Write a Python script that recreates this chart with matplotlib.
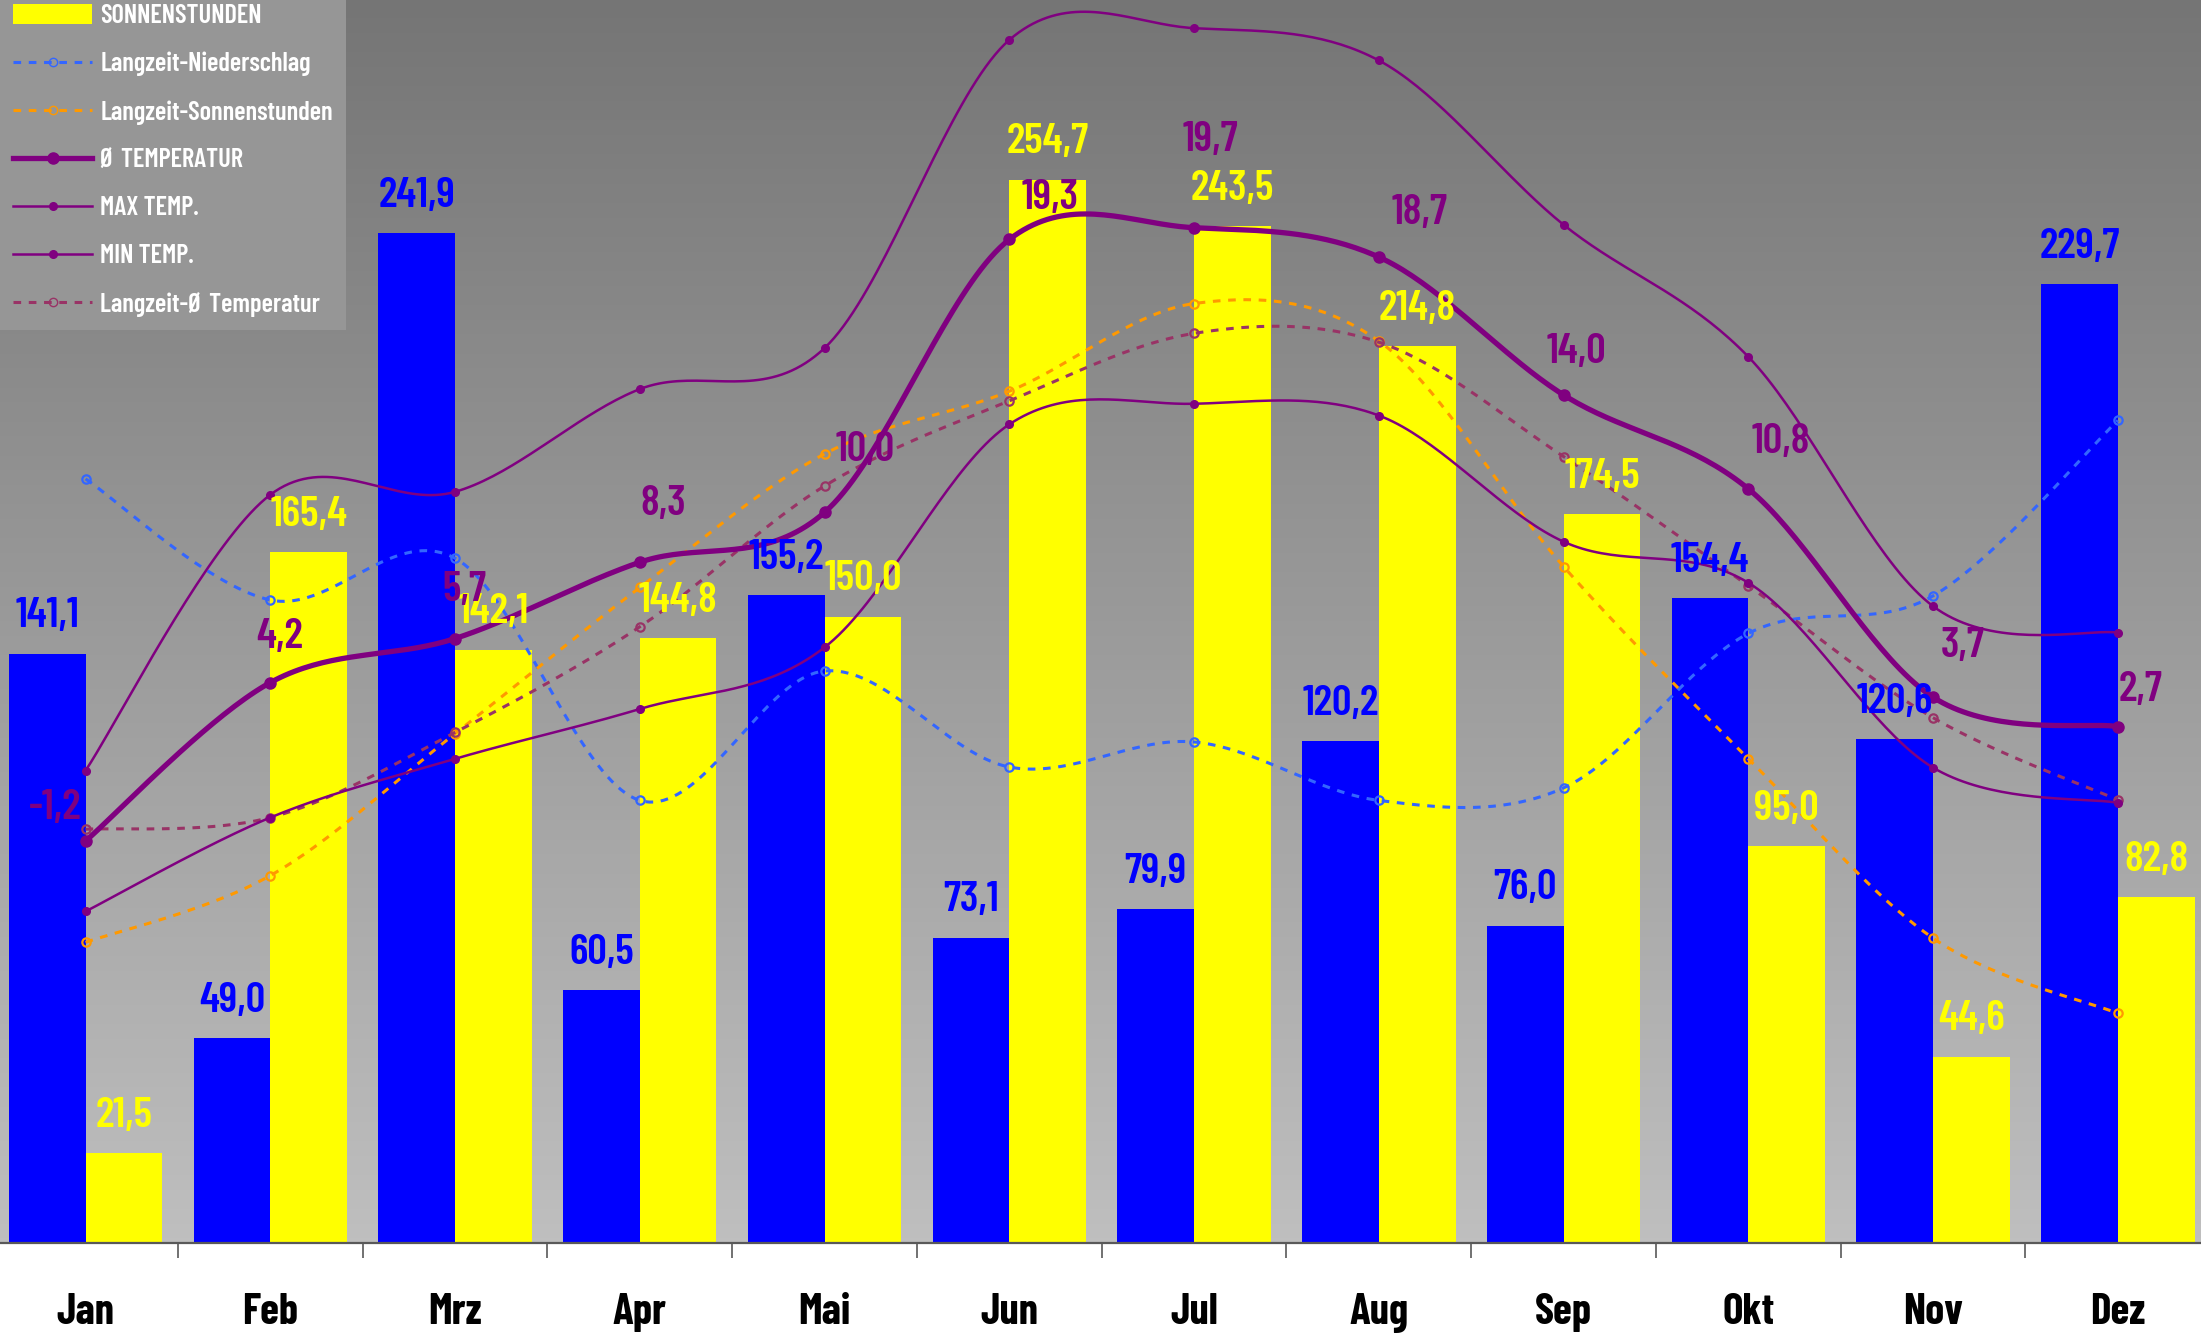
import numpy as np
import matplotlib
matplotlib.use("Agg")
import matplotlib.pyplot as plt
from matplotlib.patches import Patch
from matplotlib.lines import Line2D

plt.rcParams['font.family'] = ['Barlow Condensed', 'DejaVu Sans']

# data
months = ['Jan', 'Feb', 'Mrz', 'Apr', 'Mai', 'Jun', 'Jul', 'Aug', 'Sep', 'Okt', 'Nov', 'Dez']
niederschlag = [141.1, 49.0, 241.9, 60.5, 155.2, 73.1, 79.9, 120.2, 76.0, 154.4, 120.6, 229.7]
sonnenstunden = [21.5, 165.4, 142.1, 144.8, 150.0, 254.7, 243.5, 214.8, 174.5, 95.0, 44.6, 82.8]
lz_niederschlag = [183, 154, 164, 106, 137, 114, 120, 106, 109, 146, 155, 197]
lz_sonne = [72, 88, 122, 157, 189, 204, 225, 216, 162, 116, 73, 55]
temp_avg = [-1.2, 4.2, 5.7, 8.3, 10.0, 19.3, 19.7, 18.7, 14.0, 10.8, 3.7, 2.7]
temp_max = [1.2, 10.6, 10.7, 14.2, 15.6, 26.1, 26.5, 25.4, 19.8, 15.3, 6.8, 5.9]
temp_min = [-3.6, -0.4, 1.6, 3.3, 5.4, 13.0, 13.7, 13.3, 9.0, 7.6, 1.3, 0.1]
lz_temp = [-0.8, -0.4, 2.5, 6.1, 10.9, 13.8, 16.1, 15.8, 11.9, 7.5, 3.0, 0.2]

# label offsets (points) for the temperature labels
temp_label_off = [(-22, 24), (7, 33), (7, 35), (17, 42), (29, 45), (29, 30),
                  (12, 63), (29, 32), (9, 31), (23, 34), (21, 37), (16, 26)]


def fmt(v):
    return f"{v:.1f}".replace('.', ',')


# smooth line like the spreadsheet "smoothed line" (catmull-rom / bezier)
def smooth(xs, ys, n=40):
    P = np.column_stack([np.asarray(xs, float), np.asarray(ys, float)])
    out = []
    for i in range(len(P) - 1):
        p0 = P[i - 1] if i > 0 else P[i]
        p1 = P[i]
        p2 = P[i + 1]
        p3 = P[i + 2] if i + 2 < len(P) else P[i + 1]
        c1 = p1 + (p2 - p0) / 6
        c2 = p2 - (p3 - p1) / 6
        t = np.linspace(0, 1, n)[:, None]
        seg = ((1 - t) ** 3) * p1 + 3 * ((1 - t) ** 2) * t * c1 + 3 * (1 - t) * t ** 2 * c2 + t ** 3 * p2
        out.append(seg if i == 0 else seg[1:])
    seg = np.vstack(out)
    return seg[:, 0], seg[:, 1]


x = np.arange(len(months))
w = 0.415
lab_fs = 31
dash = (0, (2.5, 2.5))

fig = plt.figure(figsize=(22.01, 13.35), dpi=100)
ax = fig.add_axes([-0.0031, 0.0689, 1.0073, 0.9311])
ax.set_xlim(-0.5, 11.5)
ax.set_ylim(0, 297.7)

# gray gradient background
grad = np.linspace(0, 1, 256)[:, None]
top = np.array([117, 117, 117]) / 255
bot = np.array([191, 191, 191]) / 255
img = top + (bot - top) * grad[:, :, None]
img = np.repeat(img, 2, axis=1)
ax.imshow(img, extent=[0, 1, 0, 1], transform=ax.transAxes, aspect='auto', zorder=0)
ax.patch.set_visible(False)

ax.bar(x - w / 2, niederschlag, w, color='#0000FF', zorder=2)
ax.bar(x + w / 2, sonnenstunden, w, color='#FFFF00', zorder=2)

# long-term lines on the bar scale
sx, sy = smooth(x, lz_niederschlag)
ax.plot(sx, sy, color='#3366FF', lw=2.2, ls=dash, zorder=3)
ax.plot(x, lz_niederschlag, 'o', mfc='none', mec='#3366FF', ms=6, mew=1.6, zorder=3)
sx, sy = smooth(x, lz_sonne)
ax.plot(sx, sy, color='#FF9900', lw=2.2, ls=dash, zorder=3)
ax.plot(x, lz_sonne, 'o', mfc='none', mec='#FF9900', ms=6, mew=1.6, zorder=3)

# x axis
for s in ['top', 'left', 'right']:
    ax.spines[s].set_visible(False)
ax.spines['bottom'].set_color('#595959')
ax.spines['bottom'].set_linewidth(1.6)
ax.set_yticks([])
ax.set_xticks(x)
ax.set_xticklabels(months, fontsize=31, fontweight='bold', color='black')
ax.tick_params(axis='x', which='major', length=0, pad=36)
ax.set_xticks(np.arange(0.5, 11.5, 1), minor=True)
ax.tick_params(axis='x', which='minor', length=11, width=1.2, color='#595959')

# temperature axis
ax2 = ax.twinx()
ax2.set_ylim(-14.9, 27.46)
ax2.set_yticks([])
ax2.patch.set_visible(False)
for s in ax2.spines.values():
    s.set_visible(False)

sx, sy = smooth(x, lz_temp)
ax2.plot(sx, sy, color='#993366', lw=2.2, ls=dash, zorder=3)
ax2.plot(x, lz_temp, 'o', mfc='none', mec='#993366', ms=6, mew=1.6, zorder=3)

for vals in (temp_max, temp_min):
    sx, sy = smooth(x, vals)
    ax2.plot(sx, sy, color='#800080', lw=1.8, zorder=4)
    ax2.plot(x, vals, 'o', color='#800080', ms=5.5, zorder=4)

sx, sy = smooth(x, temp_avg)
ax2.plot(sx, sy, color='#800080', lw=3.8, zorder=4)
ax2.plot(x, temp_avg, 'o', color='#800080', ms=8, zorder=4)

# value labels on top of all lines
for xi, v in zip(x, niederschlag):
    ax2.annotate(fmt(v), (xi - w / 2, v), xycoords=ax.transData, xytext=(0, 19), textcoords='offset points',
                 ha='center', va='baseline', fontsize=lab_fs, fontweight=600, color='#0000FF', zorder=5)
for xi, v in zip(x, sonnenstunden):
    ax2.annotate(fmt(v), (xi + w / 2, v), xycoords=ax.transData, xytext=(0, 19), textcoords='offset points',
                 ha='center', va='baseline', fontsize=lab_fs, fontweight=600, color='#FFFF00', zorder=5)
for xi, v, off in zip(x, temp_avg, temp_label_off):
    ax2.annotate(fmt(v), (xi, v), xytext=off, textcoords='offset points',
                 ha='center', va='center', fontsize=lab_fs, fontweight=600, color='#800080', zorder=6)

handles = [
    Patch(facecolor='#FFFF00', edgecolor='none'),
    Line2D([], [], color='#3366FF', lw=2.2, ls=dash, marker='o', mfc='none', mec='#3366FF', ms=6),
    Line2D([], [], color='#FF9900', lw=2.2, ls=dash, marker='o', mfc='none', mec='#FF9900', ms=6),
    Line2D([], [], color='#800080', lw=3.8, marker='o', ms=8),
    Line2D([], [], color='#800080', lw=1.8, marker='o', ms=5.5),
    Line2D([], [], color='#800080', lw=1.8, marker='o', ms=5.5),
    Line2D([], [], color='#993366', lw=2.2, ls=dash, marker='o', mfc='none', mec='#993366', ms=6),
]
labels = ['SONNENSTUNDEN', 'Langzeit-Niederschlag', 'Langzeit-Sonnenstunden', 'Ø TEMPERATUR',
          'MAX TEMP.', 'MIN TEMP.', 'Langzeit-Ø Temperatur']
leg = fig.legend(handles, labels, loc='upper left', bbox_to_anchor=(0, 1 + 9 / 1335),
                 bbox_transform=fig.transFigure, borderaxespad=0, frameon=True,
                 fancybox=False, facecolor='#969696', edgecolor='none', framealpha=1,
                 prop={'size': 19, 'weight': 600}, handlelength=3.0, handleheight=0.75,
                 handletextpad=0.3, labelspacing=0.9, borderpad=0.5)
for t in leg.get_texts():
    t.set_color('white')

plt.savefig('out.png', dpi=100)
